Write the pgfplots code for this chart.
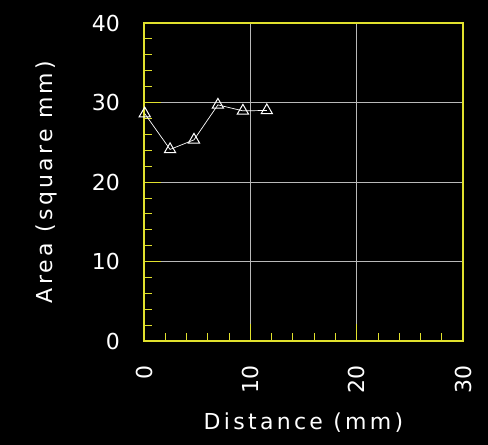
\documentclass[border=0pt]{standalone}
\usepackage{fontspec}
\setmainfont{DejaVu Sans}
\newfontfamily\labelfont[LetterSpace=15]{DejaVu Sans}
\usepackage{pgfplots}
\pgfplotsset{compat=1.18}
\definecolor{axyellow}{RGB}{225,225,45}
\definecolor{gridgray}{RGB}{185,185,185}
\begin{document}
\begin{tikzpicture}
\fill[black] (0,0) rectangle (488pt,445pt);
\begin{axis}[
  at={(144pt,104pt)}, anchor=south west,
  scale only axis, width=319pt, height=318pt,
  xmin=0, xmax=30, ymin=0, ymax=40,
  xtick={0,10,20,30}, ytick={0,10,20,30,40},
  minor x tick num=4, minor y tick num=4,
  tick pos=left, tick align=inside,
  major tick length=17pt, minor tick length=8pt,
  every tick/.style={axyellow, line width=0.8pt},
  axis line style={axyellow, line width=1.2pt},
  grid=major,
  major grid style={gridgray, line width=0.8pt},
  font=\fontsize{22}{26}\selectfont,
  /pgf/number format/assume math mode=true,
  ticklabel style={white},
  xticklabel style={yshift=-24pt, rotate=90, anchor=east, inner sep=0pt},
  yticklabel style={anchor=east, inner sep=0pt, xshift=-24pt},
  xlabel={\labelfont Distance (mm)}, ylabel={\labelfont Area (square mm)},
  label style={white},
  xlabel style={at={(axis description cs:0.5,-0.258)}, anchor=center},
  ylabel style={at={(axis description cs:-0.305,0.5)}, anchor=center},
]
\addplot[white, line width=0.7pt, mark=triangle, mark size=6.5pt, mark options={solid, line width=1pt}]
  coordinates {(0.07,28.6) (2.45,24.1) (4.7,25.3) (6.95,29.7) (9.3,28.95) (11.55,29.0)};
\end{axis}
\end{tikzpicture}
\end{document}
